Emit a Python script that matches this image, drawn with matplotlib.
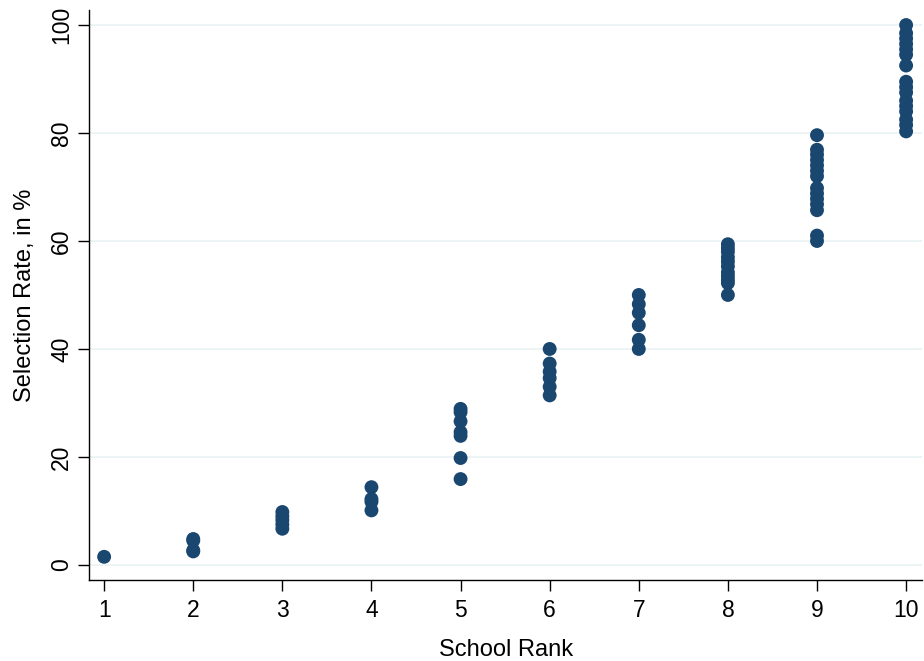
import numpy as np
import matplotlib.pyplot as plt

plt.rcParams['font.family'] = ['Liberation Sans', 'DejaVu Sans']

# selection rates (%) observed for each school rank
rate_1 = [1.5]
rate_2 = [4.8, 4.5, 2.7, 2.5]
rate_3 = [9.8, 9.0, 8.3, 7.5, 6.7]
rate_4 = [14.4, 12.2, 11.7, 10.1]
rate_5 = [28.9, 28.3, 26.6, 24.6, 23.9, 19.8, 15.9]
rate_6 = [40.0, 37.3, 35.8, 34.6, 33.0, 31.4]
rate_7 = [50.0, 48.3, 46.7, 44.4, 41.7, 40.0]
rate_8 = [59.4, 58.7, 58.0, 57.0, 56.2, 55.3, 54.2, 53.5, 52.8, 52.2, 50.0]
rate_9 = [79.6, 76.9, 76.0, 75.0, 74.0, 73.0, 72.0, 69.8, 68.8, 67.8, 66.8, 65.7, 61.0, 60.0]
rate_10 = [100.0, 98.5, 97.5, 96.5, 95.5, 94.5, 92.5, 89.5, 88.5, 87.5, 86.0, 85.0,
           84.0, 82.5, 81.5, 80.3]

rates = [rate_1, rate_2, rate_3, rate_4, rate_5, rate_6, rate_7, rate_8, rate_9, rate_10]
ranks = np.arange(1, 11)

x = np.concatenate([np.full(len(r), k) for k, r in zip(ranks, rates)])
y = np.concatenate([np.array(r) for r in rates])

fig = plt.figure(figsize=(9.24, 6.61), dpi=100)
ax = fig.add_axes([0.0963, 0.1225, 0.9017, 0.8625])

ax.scatter(x, y, s=100, color='#1a476f', edgecolors='none', zorder=3)

ax.set_xlim(0.83, 10.18)
ax.set_ylim(-2.8, 102.8)
ax.set_xticks(ranks)
ax.set_yticks(np.arange(0, 101, 20))
ax.grid(axis='y', color='#eaf2f3', linewidth=1.2, zorder=0)

for side in ['top', 'right']:
    ax.spines[side].set_visible(False)
for side in ['left', 'bottom']:
    ax.spines[side].set_linewidth(1.0)

ax.tick_params(axis='both', direction='out', length=8, width=1.0, labelsize=16.5)
ax.tick_params(axis='x', pad=6)
plt.setp(ax.get_yticklabels(), rotation=90, va='center')

ax.set_xlabel('School Rank', fontsize=17, labelpad=12)
ax.set_ylabel('Selection Rate, in %', fontsize=17, labelpad=10)

fig.savefig('out.png', dpi=100)
